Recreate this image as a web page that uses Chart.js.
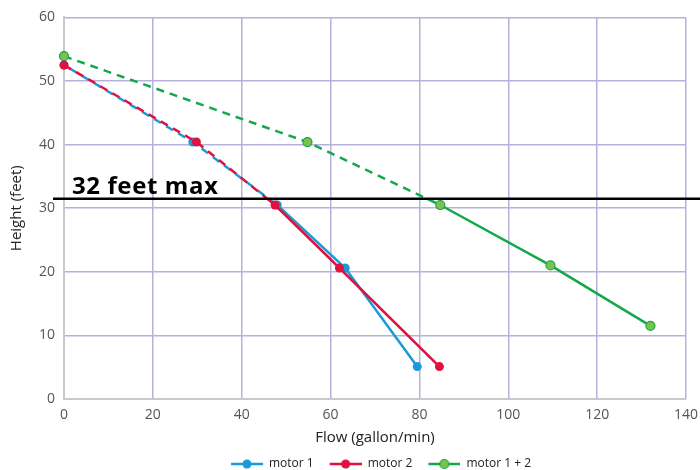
<!DOCTYPE html>
<html>
<head>
<meta charset="utf-8">
<script src="https://cdn.jsdelivr.net/npm/chart.js@4.4.1/dist/chart.umd.min.js"></script>
<style>
  html, body { margin: 0; padding: 0; background: #fff; }
  #wrap { width: 700px; height: 470px; }
</style>
</head>
<body>
<div id="wrap"><canvas id="pumpChart"></canvas></div>
<script>
// pump curves
const motor1Flow = [0, 29, 48, 63.3, 79.5];
const motor1Head = [52.5, 40.4, 30.5, 20.6, 5.1];
const motor2Flow = [0, 29.8, 47.5, 62, 84.5];
const motor2Head = [52.5, 40.4, 30.5, 20.6, 5.1];
const bothFlow = [0, 54.8, 84.7, 109.5, 132];
const bothHead = [53.9, 40.4, 30.5, 21, 11.5];
const seriesNames = ["motor 1", "motor 2", "motor 1 + 2"];
const limitHead = 31.5; // black line
const limitLabel = "32 feet max";

const blue = "#1a9ad8";
const red = "#e0103f";
const green = "#13a84b";
const greenDot = "#7cc04f";

function pts(xs, ys) {
    return xs.map((x, i) => ({ x: x, y: ys[i] }));
}

// little line+dot swatch for the legend (blank strip on the left = gap to previous item)
function swatch(color, dotFill) {
    const c = document.createElement("canvas");
    c.width = 44; c.height = 12;
    const g = c.getContext("2d");
    g.strokeStyle = color;
    g.lineWidth = 2.5;
    g.beginPath(); g.moveTo(12, 6); g.lineTo(44, 6); g.stroke();
    g.fillStyle = dotFill;
    g.beginPath(); g.arc(28, 6, 4.5, 0, Math.PI * 2); g.fill();
    if (dotFill !== color) { g.lineWidth = 1.2; g.stroke(); }
    return c;
}

function series(name, data, color, dotFill, part, dashOffset) {
    return {
        label: name,
        data: data,
        part: part,
        clip: 12,
        borderColor: color,
        backgroundColor: dotFill,
        pointBackgroundColor: dotFill,
        pointBorderColor: color,
        pointBorderWidth: dotFill === color ? 0 : 1.2,
        pointRadius: 4.5,
        borderWidth: 2.5,
        borderDash: part === "dashed" ? [8, 6] : [],
        borderDashOffset: dashOffset || 0,
        tension: 0
    };
}

// dashed above the limit line, solid below it
const splitClip = {
    id: "splitClip",
    beforeDatasetDraw(chart, args) {
        const ds = chart.data.datasets[args.index];
        const yl = chart.scales.y.getPixelForValue(limitHead);
        const ctx = chart.ctx;
        ctx.save();
        ctx.beginPath();
        if (ds.part === "dashed") ctx.rect(0, 0, chart.width, yl);
        else ctx.rect(0, yl, chart.width, chart.height - yl);
        ctx.clip();
    },
    afterDatasetDraw(chart) {
        chart.ctx.restore();
    }
};

const limitLine = {
    id: "limitLine",
    afterDatasetsDraw(chart) {
        const ctx = chart.ctx;
        const y = chart.scales.y.getPixelForValue(limitHead);
        ctx.save();
        ctx.strokeStyle = "#000";
        ctx.lineWidth = 2.5;
        ctx.beginPath();
        ctx.moveTo(53, y);
        ctx.lineTo(chart.width, y);
        ctx.stroke();
        ctx.fillStyle = "#000";
        ctx.font = "bold 24px 'Open Sans'";
        ctx.letterSpacing = "0.6px";
        ctx.textAlign = "left";
        ctx.textBaseline = "alphabetic";
        ctx.fillText(limitLabel, 72, y - 5);
        ctx.restore();
    }
};

const swatches = [swatch(blue, blue), swatch(red, red), swatch(green, greenDot)];

new Chart(document.getElementById("pumpChart"), {
    type: "line",
    data: {
        datasets: [
            series(seriesNames[1], pts(motor2Flow, motor2Head), red, red, "solid"),
            series(seriesNames[0], pts(motor1Flow, motor1Head), blue, blue, "solid"),
            series(seriesNames[2], pts(bothFlow, bothHead), green, greenDot, "solid"),
            series(seriesNames[1], pts(motor2Flow, motor2Head), red, red, "dashed"),
            series(seriesNames[0], pts(motor1Flow, motor1Head), blue, blue, "dashed", 7),
            series(seriesNames[2], pts(bothFlow, bothHead), green, greenDot, "dashed")
        ]
    },
    plugins: [splitClip, limitLine],
    options: {
        responsive: true,
        maintainAspectRatio: false,
        animation: false,
        layout: { padding: { left: 0, right: 4, top: 10, bottom: -10 } },
        plugins: {
            tooltip: { enabled: false },
            legend: {
                position: "bottom",
                fullSize: false,
                labels: {
                    usePointStyle: true,
                    pointStyleWidth: 44,
                    padding: 4,
                    color: "#222",
                    font: { family: "'Open Sans'", size: 12 },
                    generateLabels(chart) {
                        return seriesNames.map((n, i) => ({
                            text: n,
                            pointStyle: swatches[i],
                            datasetIndex: i,
                            fontColor: "#222",
                            lineWidth: 0
                        }));
                    }
                }
            }
        },
        scales: {
            x: {
                type: "linear",
                min: 0,
                max: 140,
                afterFit(scale) { scale.height = 55; scale.paddingRight = 14; },
                ticks: { stepSize: 20, color: "#555", padding: 8, font: { family: "'Open Sans'", size: 14 } },
                grid: { color: "#b4b2dc", lineWidth: 1.5, drawTicks: false },
                border: { color: "#c9c9c9", width: 2 },
                title: {
                    display: true,
                    text: "Flow (gallon/min)",
                    color: "#222",
                    font: { family: "'Open Sans'", size: 15 },
                    padding: { top: 0, bottom: 7 }
                }
            },
            y: {
                min: 0,
                max: 60,
                afterFit(scale) { scale.width = 64; },
                ticks: { stepSize: 10, color: "#555", padding: 9, font: { family: "'Open Sans'", size: 14 } },
                grid: { color: "#b4b2dc", lineWidth: 1.5, drawTicks: false },
                border: { color: "#c9c9c9", width: 2 },
                title: {
                    display: true,
                    text: "Height (feet)",
                    color: "#222",
                    font: { family: "'Open Sans'", size: 15 },
                    padding: { top: 8, bottom: 0 }
                }
            }
        }
    }
});
</script>
</body>
</html>
